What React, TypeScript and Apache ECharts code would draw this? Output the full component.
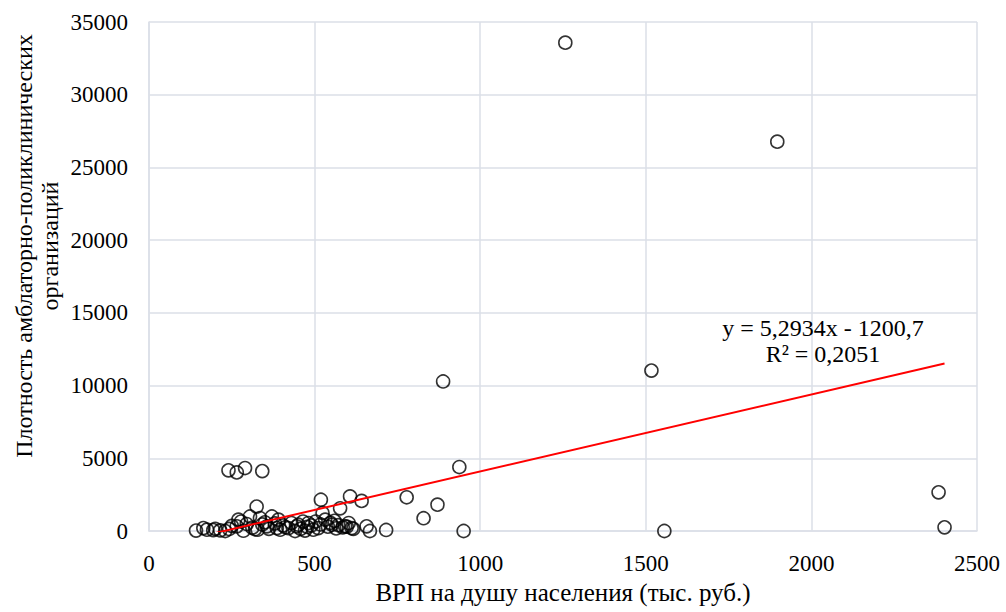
import React, { useEffect, useRef } from "react";
import * as echarts from "echarts";

// ВРП на душу населения (тыс. руб.)
const grpPerCapita: number[] = [
  142, 164, 175, 194, 200, 215, 230, 242, 250, 265, 270, 278, 285, 295, 305, 312, 320, 325, 328, 335,
  342, 350, 356, 362, 371, 380, 386, 391, 396, 405, 412, 421, 430, 441, 446, 451, 458, 465, 471, 478,
  481, 490, 496, 503, 511, 518, 524, 532, 540, 548, 552, 560, 565, 572, 577, 585, 592, 597, 603, 612,
  617, 642, 607, 519, 657, 667, 716, 778, 829, 871, 888, 937, 950, 1257, 1517, 1556, 1897, 2384, 2402,
  240, 265, 290, 342,
];
// Плотность амбулаторно-поликлинических организаций
const clinicDensity: number[] = [
  30, 200, 90, 60, 150, 40, 0, 140, 350, 320, 780, 650, 20, 480, 1000, 230, 120, 1680, 90, 890,
  450, 600, 320, 150, 1000, 520, 200, 780, 90, 380, 260, 200, 550, 0, 320, 430, 150, 650, 30, 280,
  550, 380, 90, 650, 200, 450, 1240, 780, 300, 560, 430, 700, 180, 400, 1560, 250, 320, 300, 550, 200,
  150, 2070, 2380, 2150, 320, 0, 70, 2320, 880, 1810, 10280, 4400, 0, 33580, 11030, 0, 26770, 2660, 250,
  4170, 4030, 4330, 4120,
];

const trendSlope = 5.2934;
const trendIntercept = -1200.7;
const trendLabel = ["y = 5,2934x - 1200,7", "R² = 0,2051"];

const xTicks = { min: 0, max: 2500, interval: 500 };
const yTicks = { min: 0, max: 35000, interval: 5000 };

const xTitle = "ВРП на душу населения (тыс. руб.)";
const yTitle = ["Плотность амблаторно-поликлинических", "организаций"];

export default function App() {
  const ref = useRef<HTMLDivElement>(null);
  useEffect(() => {
    if (!ref.current) return;
    const chart = echarts.init(ref.current, undefined, { renderer: "svg" });
    const points = grpPerCapita.map((x, i) => [x, clinicDensity[i]]);
    const minX = Math.min(...grpPerCapita);
    const maxX = Math.max(...grpPerCapita);
    const trend = [
      [minX, trendSlope * minX + trendIntercept],
      [maxX, trendSlope * maxX + trendIntercept],
    ];
    const font = "Liberation Serif";
    const gridColor = "#dbdfe7";
    const plain = (v: number) => String(v);
    chart.setOption({
      animation: false,
      textStyle: { fontFamily: font, color: "#000" },
      grid: { left: 149, right: 29, top: 22, bottom: 81 },
      xAxis: {
        type: "value",
        ...xTicks,
        name: xTitle,
        nameLocation: "middle",
        nameGap: 47,
        nameTextStyle: { fontFamily: font, fontSize: 25, color: "#000" },
        axisLine: { show: true, lineStyle: { color: gridColor, width: 1.5 } },
        axisTick: { show: false },
        axisLabel: { fontFamily: font, fontSize: 23, color: "#000", margin: 21, formatter: plain },
        splitLine: { show: true, lineStyle: { color: gridColor, width: 1.5 } },
      },
      yAxis: {
        type: "value",
        ...yTicks,
        axisLine: { show: true, lineStyle: { color: gridColor, width: 1.5 } },
        axisTick: { show: false },
        axisLabel: { fontFamily: font, fontSize: 23, color: "#000", margin: 21, formatter: plain },
        splitLine: { show: true, lineStyle: { color: gridColor, width: 1.5 } },
      },
      graphic: [
        {
          type: "text",
          x: 37,
          y: 246,
          rotation: Math.PI / 2,
          style: {
            text: yTitle.join("\n"),
            fontFamily: font,
            fontSize: 24,
            lineHeight: 26,
            fill: "#000",
            align: "center",
            verticalAlign: "middle",
          },
          z: 10,
        },
        {
          type: "text",
          x: 823,
          y: 341,
          style: {
            text: trendLabel.join("\n"),
            fontFamily: font,
            fontSize: 24,
            lineHeight: 26,
            fill: "#000",
            align: "center",
            verticalAlign: "middle",
          },
          z: 10,
        },
      ],
      series: [
        {
          type: "scatter",
          data: points,
          symbol: "circle",
          symbolSize: 13,
          itemStyle: { color: "rgba(255,255,255,0)", borderColor: "#000", borderWidth: 1.6 },
          z: 3,
        },
        {
          type: "line",
          data: trend,
          symbol: "none",
          clip: true,
          lineStyle: { color: "#ff0000", width: 2 },
          z: 4,
        },
      ],
    });
    return () => chart.dispose();
  }, []);
  return (
    <div
      ref={ref}
      style={{ position: "absolute", left: 0, top: 0, width: 1006, height: 612, background: "#fff" }}
    />
  );
}
